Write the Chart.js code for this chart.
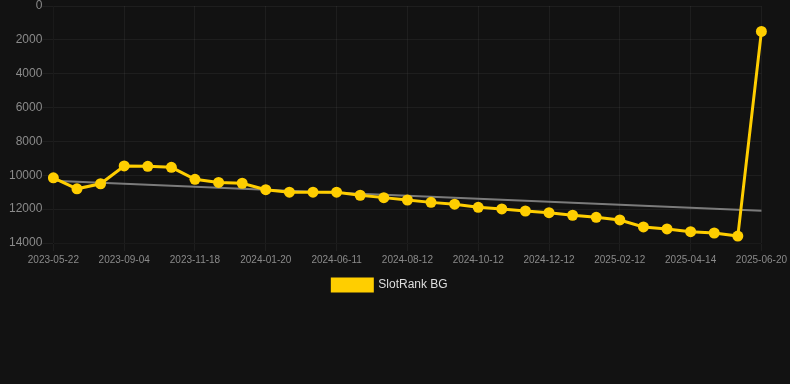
<!DOCTYPE html>
<html>
<head>
<meta charset="utf-8">
<script src="https://cdn.jsdelivr.net/npm/chart.js@4/dist/chart.umd.min.js"></script>
<style>
  html, body { margin: 0; padding: 0; background: #121212; }
  #wrap { width: 790px; height: 301px; position: relative; }
</style>
</head>
<body>
<div id="wrap"><canvas id="rankChart"></canvas></div>
<script>
// x axis: one slot per observation, labelled every third one
const tickLabels = ['2023-05-22', '2023-09-04', '2023-11-18', '2024-01-20', '2024-06-11',
  '2024-08-12', '2024-10-12', '2024-12-12', '2025-02-12', '2025-04-14', '2025-06-20'];

// rank values
const rankValues = [10150, 10800, 10500, 9450, 9470, 9530, 10240, 10420, 10470, 10850,
  11000, 11000, 11000, 11180, 11320, 11460, 11600, 11710, 11890, 11990,
  12110, 12210, 12360, 12480, 12640, 13050, 13170, 13330, 13410, 13590, 1500];

// trend line ends (start, end)
const trendEnds = [10320, 12090];

const categories = rankValues.map((v, i) => i);
const trendValues = categories.map((c, i) =>
  i === 0 ? trendEnds[0] : (i === categories.length - 1 ? trendEnds[1] : null));

const yellow = 'rgb(255, 206, 0)';
const gridColor = 'rgba(255, 255, 255, 0.05)';

const ctx = document.getElementById('rankChart').getContext('2d');
const chart = new Chart(ctx, {
  type: 'line',
  data: {
    labels: categories,
    datasets: [{
      label: 'SlotRank BG',
      data: rankValues,
      borderColor: yellow,
      backgroundColor: yellow,
      borderWidth: 3,
      pointRadius: 5.5,
      pointBackgroundColor: yellow,
      pointBorderWidth: 0,
      tension: 0
    }, {
      label: 'trend',
      data: trendValues,
      borderColor: 'rgba(150, 150, 150, 0.8)',
      borderWidth: 2,
      pointRadius: 0,
      spanGaps: true,
      tension: 0
    }]
  },
  options: {
    responsive: true,
    maintainAspectRatio: false,
    animation: false,
    layout: { padding: { left: 9, right: 19, top: 0 } },
    plugins: {
      tooltip: { enabled: false },
      legend: {
        position: 'bottom',
        labels: {
          color: '#dddddd',
          font: { family: 'Liberation Sans, Arial', size: 12 },
          boxWidth: 40,
          boxHeight: 12,
          filter: item => item.text !== 'trend'
        }
      }
    },
    scales: {
      x: {
        grid: { color: gridColor },
        ticks: {
          autoSkip: false,
          maxRotation: 0,
          color: '#8a8a8a',
          font: { family: 'Liberation Sans, Arial', size: 10 },
          callback: (value, index) => index % 3 === 0 ? tickLabels[index / 3] : null
        }
      },
      y: {
        reverse: true,
        min: 0,
        max: 14000,
        grid: { color: gridColor, tickLength: 11 },
        ticks: {
          stepSize: 2000,
          padding: 0,
          color: '#8a8a8a',
          font: { family: 'Liberation Sans, Arial', size: 12, lineHeight: 1 },
          callback: value => String(value)
        }
      }
    }
  }
});
</script>
</body>
</html>
